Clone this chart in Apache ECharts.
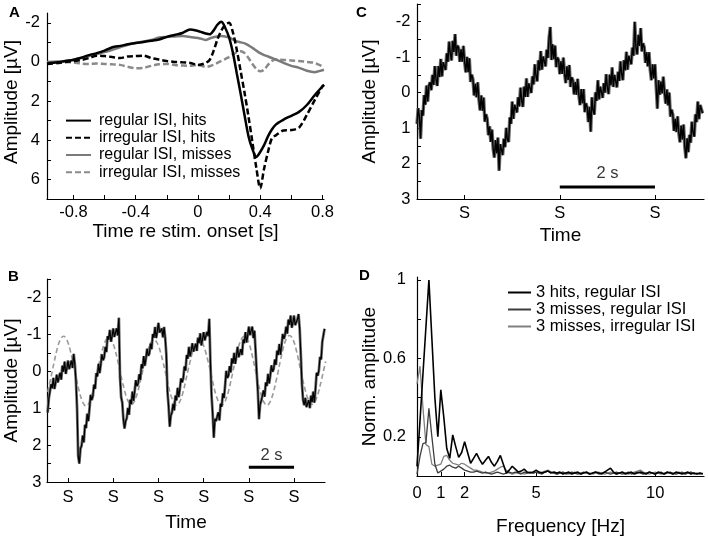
<!DOCTYPE html>
<html><head><meta charset="utf-8">
<script src="https://cdn.jsdelivr.net/npm/echarts@6/dist/echarts.min.js"></script>
<style>html,body{margin:0;padding:0;background:#fff}#c{width:708px;height:537px}</style>
</head><body><div id="c"></div>
<script>
// ---------- Panel A: ERP averages ----------
const aTime = [-0.97,-0.9,-0.85,-0.8,-0.75,-0.7,-0.65,-0.6,-0.55,-0.5,-0.45,-0.4,-0.35,-0.3,-0.25,-0.2,-0.15,-0.1,-0.05,0,
  0.025,0.05,0.075,0.1,0.125,0.15,0.175,0.2,0.225,0.25,0.275,0.3,0.325,0.35,0.375,0.4,0.425,0.45,0.475,0.5,
  0.55,0.6,0.65,0.7,0.75,0.8,0.81];
const aRegHits = [0.08,0.02,-0.05,-0.1,-0.22,-0.35,-0.45,-0.58,-0.75,-0.82,-0.9,-0.97,-1.02,-1.08,-1.15,-1.28,-1.38,-1.48,-1.66,-1.58,
  -1.52,-1.45,-1.41,-1.6,-1.9,-2.05,-1.75,-1.25,-0.45,0.6,1.65,2.75,3.8,4.45,4.85,4.6,4.25,3.8,3.45,3.2,
  2.95,2.75,2.55,2.2,1.7,1.25,1.17];
const aIrrHits = [0.1,0.05,0.0,-0.05,-0.1,-0.2,-0.32,-0.3,-0.25,-0.2,-0.28,-0.3,-0.32,-0.2,-0.12,-0.05,0.0,0.02,0.05,0.15,
  0.12,0.05,-0.1,-0.55,-1.15,-1.6,-1.9,-2.0,-1.5,-0.6,0.5,1.6,2.8,4.1,5.4,6.45,5.45,4.6,3.9,3.75,
  3.5,3.48,3.35,2.7,1.95,1.25,1.17];
const aRegMiss = [0.0,-0.02,-0.05,-0.12,-0.2,-0.3,-0.4,-0.5,-0.62,-0.75,-0.88,-0.97,-1.05,-1.12,-1.25,-1.28,-1.3,-1.32,-1.28,-1.22,
  -1.18,-1.12,-1.2,-1.26,-1.3,-1.32,-1.3,-1.25,-1.15,-1.05,-1.0,-0.95,-0.85,-0.72,-0.58,-0.45,-0.35,-0.28,-0.2,-0.13,
  0.05,0.2,0.3,0.45,0.52,0.42,0.4];
const aIrrMiss = [0.05,0.05,0.0,0.02,0.08,0.1,0.08,0.1,0.12,0.15,0.25,0.32,0.3,0.2,0.12,0.1,0.15,0.18,0.2,0.15,
  0.2,0.25,0.22,0.15,0.05,-0.05,-0.15,-0.25,-0.38,-0.5,-0.55,-0.45,-0.2,0.1,0.35,0.48,0.4,0.15,-0.05,-0.12,
  -0.1,-0.08,-0.05,0.0,0.05,0.22,0.25];
const aXTicks = [-0.8,-0.6,-0.4,-0.2,0,0.2,0.4,0.6,0.8];
const aXLabels = [-0.8,-0.4,0,0.4,0.8];
const aYTicks = [-2,-1,0,1,2,3,4,5,6];
const aYLabels = [-2,0,2,4,6];
const aNames = ['regular ISI, hits','irregular ISI, hits','regular ISI, misses','irregular ISI, misses'];

// ---------- Panel B: single-trial trace (sampled every 0.05 s from 0.1 s) ----------
const bT0 = 0.1, bStep = 0.05;
const bTrace = [1.12,0.74,0.78,0.35,0.46,0.18,0.48,0.32,0.09,0.3,
  0.27,0.04,0.23,-0.15,0.01,-0.26,0.07,-0.08,-0.29,-0.06,
  -0.08,-0.29,-0.09,-0.47,-0.2,0.25,1.0,2.3,2.5,2.1,
  2.02,1.74,1.93,1.45,1.54,1.15,1.35,1.02,0.64,0.78,
  0.67,0.36,0.48,0.05,0.14,-0.2,0.05,-0.18,-0.46,-0.3,
  -0.38,-0.66,-0.52,-0.95,-0.86,-1.12,-0.8,-0.95,-1.16,-0.93,
  -0.94,-1.16,-0.97,-1.45,0.15,0.7,0.85,1.3,1.55,1.35,
  1.27,0.99,1.18,0.77,0.89,0.55,0.8,0.54,0.24,0.4,
  0.34,0.08,0.23,-0.19,-0.08,-0.41,-0.15,-0.36,-0.61,-0.42,
  -0.48,-0.75,-0.6,-1.01,-0.91,-1.2,-0.9,-1.08,-1.31,-1.05,
  -1.0,-1.16,-0.92,-1.2,-0.9,-0.45,0.55,0.95,1.5,1.2,
  1.12,0.88,1.06,0.66,0.79,0.45,0.7,0.47,0.19,0.3,
  0.19,-0.13,-0.02,-0.44,-0.34,-0.66,-0.4,-0.56,-0.76,-0.53,
  -0.53,-0.75,-0.55,-0.91,-0.76,-1.03,-0.7,-0.86,-1.06,-0.84,
  -0.86,-1.07,-0.95,-1.42,-0.25,0.65,1.15,1.8,1.29,1.35,
  1.32,1.11,1.33,0.88,0.96,0.6,0.73,0.39,-0.01,0.18,
  0.12,-0.14,0.03,-0.35,-0.21,-0.5,-0.2,-0.41,-0.66,-0.38,
  -0.33,-0.6,-0.44,-0.86,-0.76,-1.06,-0.78,-0.97,-1.21,-0.98,
  -1.0,-1.21,-0.9,-1.1,-0.55,0.05,0.55,1.3,0.9,0.8,
  0.76,0.52,0.69,0.3,0.4,0.07,0.33,0.11,-0.16,0.01,
  -0.06,-0.32,-0.17,-0.56,-0.44,-0.74,-0.45,-0.71,-1.01,-0.88,
  -0.98,-1.21,-1.02,-1.4,-1.26,-1.51,-1.18,-1.32,-1.51,-1.25,
  -1.23,-1.41,-1.55,-1.15,-0.45,0.35,0.78,0.92,0.72,0.97,
  0.97,0.78,1.0,0.66,0.84,0.55,0.85,0.47,0.04,0.12,
  -0.03,-0.39,-0.32,-0.8,-0.76,-1.15];
// dashed reference oscillation (sampled every 0.1 s from 0.1 s)
const bRefT0 = 0.1, bRefStep = 0.1;
const bRef = [0.56,0.29,0.0,-0.29,-0.56,-0.77,-0.9,-0.95,-0.9,-0.77,
  -0.56,-0.29,0.0,0.29,0.55,0.76,0.89,0.94,0.89,0.76,
  0.55,0.28,0.0,-0.28,-0.54,-0.74,-0.87,-0.92,-0.87,-0.74,
  -0.54,-0.28,0.0,0.27,0.52,0.72,0.85,0.9,0.85,0.72,
  0.52,0.27,0.0,-0.26,-0.5,-0.69,-0.81,-0.86,-0.81,-0.69,
  -0.5,-0.26,0.0,0.28,0.54,0.74,0.87,0.92,0.87,0.74,
  0.54,0.28,0.0,-0.26,-0.5,-0.69,-0.81,-0.86,-0.81,-0.69,
  -0.5,-0.26,0.0,0.28,0.54,0.74,0.87,0.92,0.87,0.74,
  0.54,0.28,0.0,-0.29,-0.56,-0.77,-0.9,-0.95,-0.9,-0.77,
  -0.56,-0.29,0.0,0.28,0.54,0.74,0.87,0.92,0.87,0.74,
  0.54,0.28,0.0,-0.3,-0.57,-0.79,-0.92,-0.97,-0.92,-0.79,
  -0.57,-0.3,0.0,0.27,0.52,0.72,0.85,0.9,0.85,0.72,
  0.52,0.27,0.0,-0.27];
const bStim = [1,3,5,7,9,11];
const bScaleBar = [9,11];
const bScaleLevel = 2.6;

// ---------- Panel C: trace (sampled every 0.025 s from 0 s) ----------
const cT0 = 0, cStep = 0.025;
const cTrace = [0.88,0.44,0.69,1.3,0.5,0.65,0.07,0.34,-0.2,0.25,-0.2,-0.29,
  -0.07,-0.5,-0.22,-0.75,-0.37,-0.19,-0.75,-0.44,-0.95,-0.46,-0.86,-0.91,
  -0.64,-1.11,-0.87,-1.44,-1.1,-0.91,-1.46,-1.15,-1.65,-1.04,-1.33,-1.26,
  -0.87,-1.22,-0.87,-1.32,-0.87,-0.57,-1.01,-0.58,-0.97,-0.3,-0.51,-0.38,
  0.08,-0.25,0.13,-0.29,0.18,0.5,0.08,0.51,0.14,0.82,0.61,0.74,
  1.2,0.95,1.39,1.04,1.58,1.83,1.34,1.71,1.27,2.2,1.45,1.45,
  1.76,1.3,1.54,0.99,1.33,1.39,0.7,0.88,0.25,0.74,0.34,0.29,
  0.56,0.13,0.39,-0.14,0.23,0.4,-0.17,0.12,-0.4,0.12,-0.26,-0.28,
  0.01,-0.46,-0.23,-0.8,-0.47,-0.32,-0.91,-0.63,-1.17,-0.65,-1.02,-1.04,
  -0.74,-1.21,-0.98,-1.55,-1.85,-0.92,-1.36,-0.94,-1.33,-0.72,-0.99,-0.92,
  -0.52,-0.88,-0.53,-0.99,-0.54,-0.27,-0.74,-0.36,-0.78,-0.16,-0.43,-0.35,
  0.05,-0.3,0.06,-0.39,0.06,0.35,-0.1,0.3,-0.1,0.55,0.3,0.41,
  0.83,0.4,1.1,0.13,0.5,0.62,-0.01,0.23,-0.35,0.19,-0.17,-0.17,
  0.15,-0.27,0.0,-0.52,-0.14,0.04,-0.51,-0.21,-0.71,-0.16,-0.5,-0.48,
  -0.15,-0.59,-0.33,-0.88,-0.52,-0.35,-0.92,-0.63,-1.15,-0.65,-1.04,-1.08,
  -0.8,-1.27,-1.04,-2.0,-1.27,-1.08,-1.63,-1.32,-1.82,-1.16,-1.39,-1.28,
  -0.84,-1.14,-0.74,-1.14,-0.64,-0.35,-0.8,-0.4,-0.8,-0.17,0.45,-0.35,
  0.06,-0.31,0.02,-0.45,-0.02,0.31,-0.09,0.36,0.0,0.68,0.48,0.62,
  1.08,0.74,1.11,0.67,1.13,1.4,0.93,1.32,0.9,1.51,1.85,1.29,
  1.68,1.19,1.41,0.82,1.13,1.24,0.61,0.83,0.25,0.75,0.35,0.31,
  0.58];
const cStim = [1,3,5];
const cScaleBar = [3,5];
const cScaleLevel = 2.66;
const ampTicks = [-2.5,-2,-1.5,-1,-0.5,0,0.5,1,1.5,2,2.5,3];
const ampLabels = [-2,-1,0,1,2,3];

// ---------- Panel D: normalised spectra (every 0.125 Hz from 0 Hz) ----------
const dF0 = 0, dFStep = 0.125;
const dHitsReg = [0.05,0.28,0.52,0.76,1.0,0.7,0.4,0.2,0.44,0.3,0.14,0.09,0.21,0.15,0.095,0.12,
  0.175,0.12,0.065,0.09,0.115,0.085,0.06,0.08,0.1,0.07,0.05,0.075,0.105,0.06,0.015,0.03,
  0.05,0.035,0.02,0.025,0.035,0.02,0.015,0.02,0.03,0.02,0.015,0.02,0.025,0.015,0.02,0.015,
  0.02,0.01,0.015,0.02,0.01,0.015,0.02,0.01,0.015,0.02,0.01,0.015,0.02,0.015,0.01,0.02,
  0.03,0.04,0.02,0.01,0.015,0.02,0.01,0.015,0.02,0.01,0.015,0.02,0.015,0.01,0.02,0.015,
  0.01,0.02,0.015,0.01,0.02,0.015,0.01,0.02,0.015,0.01,0.015,0.02,0.01,0.015,0.01,0.015,0.01];
const dMissReg = [0.01,0.1,0.165,0.17,0.345,0.2,0.06,0.015,0.025,0.035,0.05,0.055,0.045,0.04,0.05,0.04,
  0.03,0.025,0.02,0.02,0.025,0.02,0.015,0.02,0.015,0.01,0.015,0.02,0.015,0.01,0.015,0.02,
  0.015,0.02,0.015,0.01,0.02,0.015,0.02,0.015,0.02,0.015,0.01,0.02,0.025,0.02,0.015,0.01,
  0.015,0.02,0.01,0.015,0.02,0.015,0.01,0.015,0.02,0.015,0.01,0.015,0.02,0.01,0.015,0.02,
  0.015,0.01,0.015,0.02,0.015,0.01,0.015,0.02,0.01,0.015,0.02,0.015,0.01,0.015,0.02,0.015,
  0.01,0.015,0.02,0.01,0.015,0.02,0.015,0.01,0.015,0.02,0.01,0.015,0.02,0.01,0.015,0.01,0.015];
const dMissIrr = [0.47,0.56,0.35,0.16,0.15,0.06,0.05,0.055,0.06,0.1,0.105,0.08,0.065,0.06,0.055,0.065,
  0.06,0.05,0.04,0.03,0.03,0.025,0.02,0.015,0.015,0.02,0.025,0.035,0.045,0.05,0.03,0.015,
  0.01,0.015,0.02,0.015,0.01,0.015,0.02,0.015,0.02,0.015,0.02,0.025,0.03,0.02,0.015,0.01,
  0.015,0.02,0.015,0.01,0.015,0.02,0.015,0.01,0.015,0.02,0.015,0.01,0.015,0.02,0.015,0.01,
  0.015,0.02,0.015,0.01,0.015,0.02,0.015,0.01,0.015,0.02,0.025,0.03,0.02,0.015,0.01,0.015,
  0.02,0.015,0.01,0.015,0.02,0.015,0.01,0.015,0.02,0.015,0.01,0.015,0.02,0.015,0.01,0.015,0.01];
const dXLabels = [0,1,2,5,10];
const dYTicks = [0.2,0.4,0.6,0.8,1];
const dYLabels = [0.2,0.6,1];
const dNames = ['3 hits, regular ISI','3 misses, regular ISI','3 misses, irregular ISI'];

// ---------- build ----------
const FONT = '"Liberation Sans", Arial, Helvetica, sans-serif';
const pairs = (xs, ys) => ys.map((v, i) => [xs[i], v]);
const sampled = (t0, step, ys) => ys.map((v, i) => [+(t0 + i * step).toFixed(4), v]);

function axis(o) {
  return {
    type: 'value', gridIndex: o.grid, min: o.min, max: o.max, inverse: !!o.inverse,
    name: o.name, nameLocation: 'middle', nameGap: o.nameGap,
    nameTextStyle: Object.assign({ color: '#000', fontSize: 19, fontFamily: FONT }, o.nameStyle || {}),
    axisLine: { show: true, onZero: false, lineStyle: { color: '#000', width: 1.2 } },
    axisTick: { show: true, inside: true, length: 4, lineStyle: { color: '#000', width: 1 }, customValues: o.ticks },
    axisLabel: { show: true, color: '#000', fontSize: 16.5, fontFamily: FONT, margin: o.margin,
                 customValues: o.labels, formatter: o.fmt },
    splitLine: { show: false }
  };
}
const sFmt = () => 'S';
const letter = (t, l, tp) => ({ text: t, left: l, top: tp, padding: 0,
  textStyle: { fontSize: 15, fontWeight: 'bold', color: '#000', fontFamily: FONT } });

const option = {
  animation: false,
  backgroundColor: '#fff',
  textStyle: { fontFamily: FONT },
  title: [ letter('A', 9, 5), letter('B', 8, 269), letter('C', 356, 5), letter('D', 359, 268) ],
  grid: [
    { left: 47, top: 13, width: 277, height: 186 },
    { left: 47, top: 279, width: 278, height: 203 },
    { left: 417, top: 4, width: 287, height: 195 },
    { left: 417, top: 277, width: 287, height: 204 }
  ],
  legend: [
    { data: aNames, orient: 'vertical', left: 65, top: 112, itemWidth: 25, itemHeight: 14, itemGap: 0, padding: 0,
      itemStyle: { opacity: 0, borderWidth: 0 },
      textStyle: { fontSize: 16, lineHeight: 17.2, color: '#000', fontFamily: FONT, padding: [0, 0, 0, 3] } },
    { data: dNames, orient: 'vertical', left: 507, top: 284, itemWidth: 23, itemHeight: 14, itemGap: 0, padding: 0,
      itemStyle: { opacity: 0, borderWidth: 0 },
      textStyle: { fontSize: 16.5, lineHeight: 15.5, color: '#000', fontFamily: FONT } }
  ],
  xAxis: [
    axis({ grid: 0, min: -0.97, max: 0.81, name: 'Time re stim. onset [s]', nameGap: 21, ticks: aXTicks, labels: aXLabels, margin: 5 }),
    axis({ grid: 1, min: 0.07, max: 12.37, name: 'Time', nameGap: 31, ticks: bStim, labels: bStim, margin: 7, fmt: sFmt }),
    axis({ grid: 2, min: 0, max: 6.03, name: 'Time', nameGap: 27, ticks: cStim, labels: cStim, margin: 6, fmt: sFmt }),
    axis({ grid: 3, min: 0, max: 12.05, name: 'Frequency [Hz]', nameGap: 41, ticks: dXLabels, labels: dXLabels, margin: 9 })
  ],
  yAxis: [
    axis({ grid: 0, min: -2.5, max: 7, inverse: true, name: 'Amplitude [µV]', nameGap: 21, ticks: aYTicks, labels: aYLabels, margin: 7,
           nameStyle: { padding: [0, 0, 0, 8] } }),
    axis({ grid: 1, min: -2.5, max: 3, inverse: true, name: 'Amplitude [µV]', nameGap: 26, ticks: ampTicks, labels: ampLabels, margin: 5.5 }),
    axis({ grid: 2, min: -2.5, max: 3, inverse: true, name: 'Amplitude [µV]', nameGap: 38, ticks: ampTicks, labels: ampLabels, margin: 6.5 }),
    axis({ grid: 3, min: 0, max: 1.015, name: 'Norm. amplitude', nameGap: 36, ticks: dYTicks, labels: dYLabels, margin: 11 })
  ],
  series: [
    // Panel A
    { name: aNames[3], type: 'line', xAxisIndex: 0, yAxisIndex: 0, data: pairs(aTime, aIrrMiss), symbol: 'none', smooth: 0.3,
      lineStyle: { color: '#8a8a8a', width: 2.5, type: [6, 3] }, itemStyle: { color: '#8a8a8a' } },
    { name: aNames[2], type: 'line', xAxisIndex: 0, yAxisIndex: 0, data: pairs(aTime, aRegMiss), symbol: 'none', smooth: 0.3,
      lineStyle: { color: '#7a7a7a', width: 2.5 }, itemStyle: { color: '#7a7a7a' } },
    { name: aNames[1], type: 'line', xAxisIndex: 0, yAxisIndex: 0, data: pairs(aTime, aIrrHits), symbol: 'none', smooth: 0.3,
      lineStyle: { color: '#000', width: 2.5, type: [6, 3] }, itemStyle: { color: '#000' } },
    { name: aNames[0], type: 'line', xAxisIndex: 0, yAxisIndex: 0, data: pairs(aTime, aRegHits), symbol: 'none', smooth: 0.3,
      lineStyle: { color: '#000', width: 2.5 }, itemStyle: { color: '#000' } },
    // Panel B
    { name: 'B reference', type: 'line', xAxisIndex: 1, yAxisIndex: 1, data: sampled(bRefT0, bRefStep, bRef), symbol: 'none', smooth: true,
      lineStyle: { color: '#9a9a9a', width: 1.6, type: [5, 3] } },
    { name: 'B trace spread', type: 'line', xAxisIndex: 1, yAxisIndex: 1, data: sampled(bT0, bStep, bTrace), symbol: 'none',
      lineStyle: { color: '#6e6e6e', width: 2.8 } },
    { name: 'B trace', type: 'line', xAxisIndex: 1, yAxisIndex: 1, data: sampled(bT0, bStep, bTrace), symbol: 'none',
      lineStyle: { color: '#000', width: 1.2 } },
    { name: 'B scale', type: 'line', xAxisIndex: 1, yAxisIndex: 1, data: bScaleBar.map(x => [x, bScaleLevel]), symbol: 'none',
      lineStyle: { color: '#000', width: 3 } },
    { name: 'B scale label', type: 'scatter', xAxisIndex: 1, yAxisIndex: 1, symbolSize: 0,
      data: [[(bScaleBar[0] + bScaleBar[1]) / 2, bScaleLevel]],
      label: { show: true, position: 'top', distance: 3, formatter: '2 s', color: '#000', fontSize: 16.5, fontFamily: FONT } },
    // Panel C
    { name: 'C trace spread', type: 'line', xAxisIndex: 2, yAxisIndex: 2, data: sampled(cT0, cStep, cTrace), symbol: 'none',
      lineStyle: { color: '#6a6a6a', width: 3.4 } },
    { name: 'C trace', type: 'line', xAxisIndex: 2, yAxisIndex: 2, data: sampled(cT0, cStep, cTrace), symbol: 'none',
      lineStyle: { color: '#000', width: 1.4 } },
    { name: 'C scale', type: 'line', xAxisIndex: 2, yAxisIndex: 2, data: cScaleBar.map(x => [x, cScaleLevel]), symbol: 'none',
      lineStyle: { color: '#000', width: 3 } },
    { name: 'C scale label', type: 'scatter', xAxisIndex: 2, yAxisIndex: 2, symbolSize: 0,
      data: [[(cScaleBar[0] + cScaleBar[1]) / 2, cScaleLevel]],
      label: { show: true, position: 'top', distance: 5, formatter: '2 s', color: '#000', fontSize: 16.5, fontFamily: FONT } },
    // Panel D
    { name: dNames[2], type: 'line', xAxisIndex: 3, yAxisIndex: 3, data: sampled(dF0, dFStep, dMissIrr), symbol: 'none',
      lineStyle: { color: '#808080', width: 1.3 }, itemStyle: { color: '#808080' } },
    { name: dNames[1], type: 'line', xAxisIndex: 3, yAxisIndex: 3, data: sampled(dF0, dFStep, dMissReg), symbol: 'none',
      lineStyle: { color: '#3c3c3c', width: 1.3 }, itemStyle: { color: '#3c3c3c' } },
    { name: dNames[0], type: 'line', xAxisIndex: 3, yAxisIndex: 3, data: sampled(dF0, dFStep, dHitsReg), symbol: 'none',
      lineStyle: { color: '#000', width: 1.6 }, itemStyle: { color: '#000' } }
  ]
};
const chart = echarts.init(document.getElementById('c'), null, { renderer: 'canvas' });
chart.setOption(option);
</script></body></html>
